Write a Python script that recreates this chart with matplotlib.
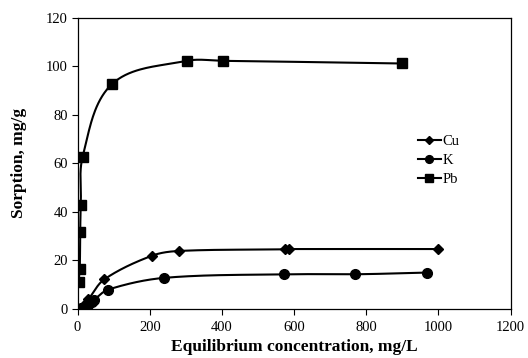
import numpy as np
import matplotlib
matplotlib.use("Agg")
import matplotlib.pyplot as plt

# data
cu_x = [0, 8, 18, 30, 74, 205, 280, 575, 585, 1000]
cu_y = [0, 0.5, 1.8, 4.0, 12.2, 21.9, 23.9, 24.6, 24.7, 24.7]
k_x = [0, 10, 20, 30, 40, 46, 85, 239, 572, 770, 969]
k_y = [0, 0.4, 1.0, 1.8, 2.8, 3.8, 8.0, 12.8, 14.3, 14.3, 15.0]
pb_x = [3, 6, 7, 9, 14, 96, 303, 402, 900]
pb_y = [11.3, 16.6, 31.7, 42.8, 62.8, 92.8, 102.3, 102.3, 101.2]

xticks = [0, 200, 400, 600, 800, 1000, 1200]
yticks = [0, 20, 40, 60, 80, 100, 120]

plt.rcParams['font.family'] = ['Liberation Serif', 'DejaVu Serif']


def smooth_line(ax, xs, ys, n=40):
    # smoothed line in screen space, control arms scaled by segment length
    pts = ax.transData.transform(np.column_stack([xs, ys]))
    m = len(pts)
    tang = np.zeros_like(pts)
    for i in range(m):
        a = pts[max(i - 1, 0)]
        b = pts[min(i + 1, m - 1)]
        d = b - a
        nrm = np.hypot(*d)
        tang[i] = d / nrm if nrm > 0 else 0
    out = [pts[0]]
    for i in range(m - 1):
        p1, p2 = pts[i], pts[i + 1]
        L = np.hypot(*(p2 - p1)) / 3.0
        c1 = p1 + tang[i] * L
        c2 = p2 - tang[i + 1] * L
        t = np.linspace(0, 1, n)[1:, None]
        seg = ((1 - t) ** 3) * p1 + 3 * ((1 - t) ** 2) * t * c1 \
            + 3 * (1 - t) * t ** 2 * c2 + t ** 3 * p2
        out.extend(seg)
    out = ax.transData.inverted().transform(np.array(out))
    return out[:, 0], out[:, 1]


fig = plt.figure(figsize=(5.28, 3.58), dpi=100)
ax = fig.add_axes([0.147, 0.137, 0.820, 0.813])
ax.set_xlim(0, 1200)
ax.set_ylim(0, 120)
ax.set_xticks(xticks)
ax.set_yticks(yticks)
ax.tick_params(labelsize=10.5, direction='out', length=4, width=0.8)
ax.tick_params(axis='x', pad=5)
ax.tick_params(axis='y', pad=3)
for s in ax.spines.values():
    s.set_linewidth(0.9)

series = [("Cu", cu_x, cu_y, 'D', 5.5),
          ("K", k_x, k_y, 'o', 7),
          ("Pb", pb_x, pb_y, 's', 7)]
for name, xs, ys, mk, ms in series:
    lx, ly = smooth_line(ax, xs, ys)
    ax.plot(lx, ly, color='black', lw=1.5, zorder=2)
    ax.plot(xs, ys, linestyle='none', marker=mk, ms=ms, color='black', zorder=3)
    ax.plot([], [], color='black', lw=1.5, marker=mk, ms=ms * 0.8, label=name)

ax.set_xlabel("Equilibrium concentration, mg/L", fontsize=12.5, fontweight='bold', labelpad=3)
ax.set_ylabel("Sorption, mg/g", fontsize=12.5, fontweight='bold', labelpad=14)
ax.legend(loc='center left', bbox_to_anchor=(0.755, 0.51), frameon=False, fontsize=10.5,
          handlelength=1.6, handletextpad=0.1, labelspacing=0.4)

fig.savefig("out.png", dpi=100)
